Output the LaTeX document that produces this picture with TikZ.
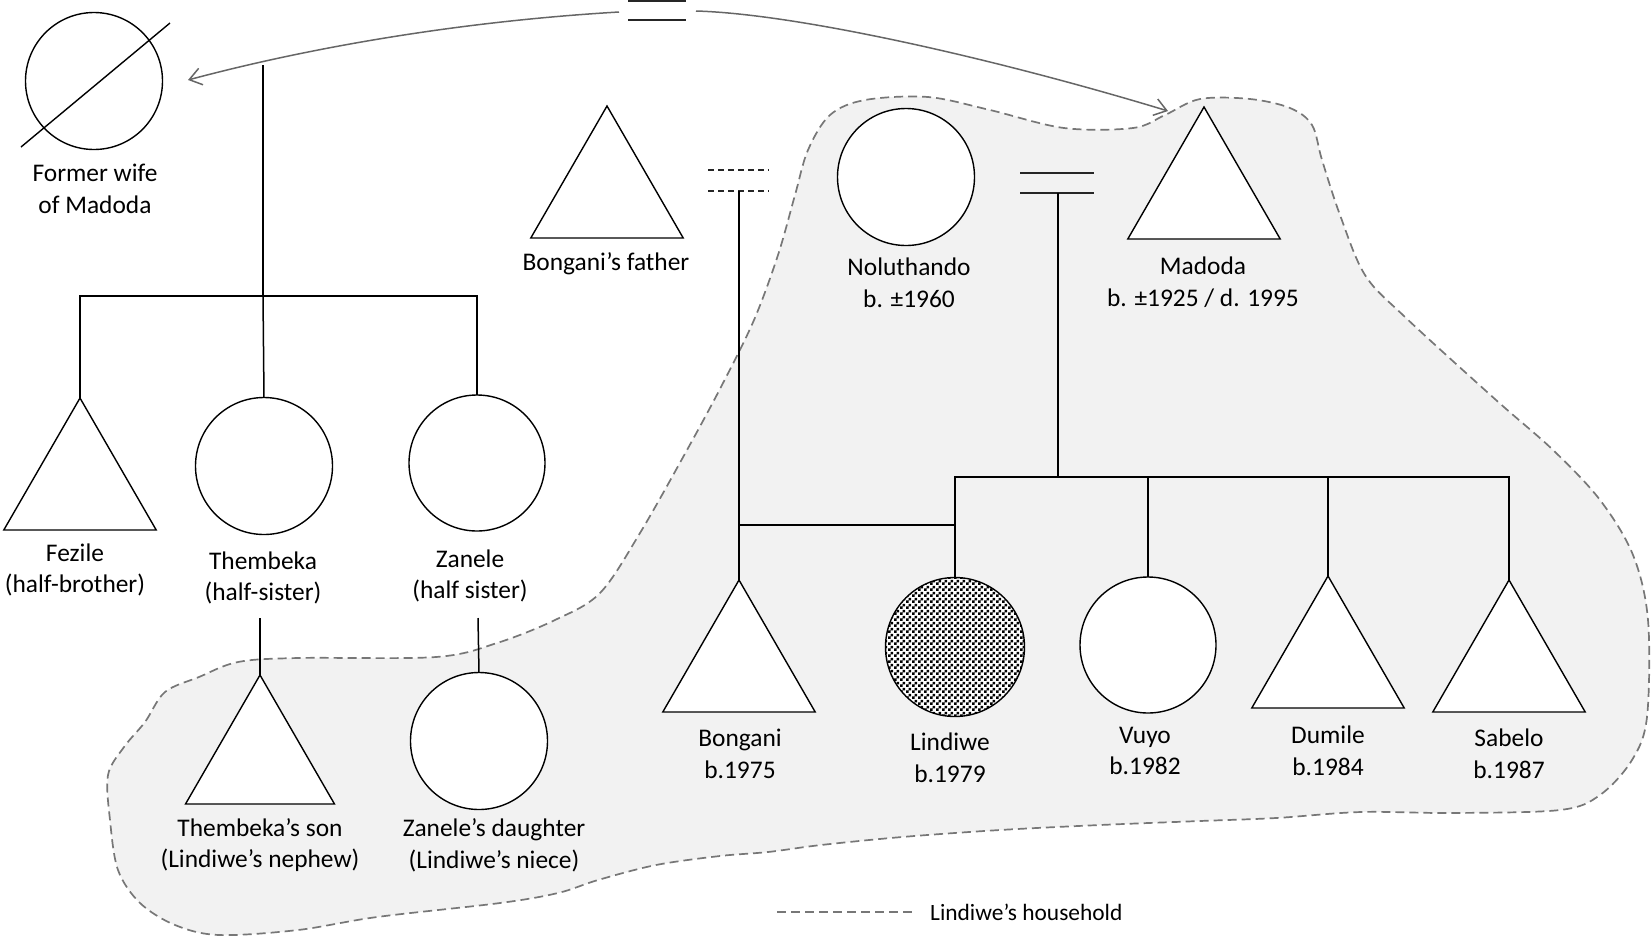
\documentclass[tikz,border=0pt]{standalone}
\usepackage{fontspec}
\setmainfont{Carlito}
\usetikzlibrary{shapes.geometric,arrows.meta,patterns}
\pgfdeclarepatternformonly{ldots}{\pgfpointorigin}{\pgfpoint{6pt}{6pt}}{\pgfpoint{6pt}{6pt}}{%
  \pgfpathrectangle{\pgfpoint{0.1pt}{0.1pt}}{\pgfpoint{3.0pt}{3.0pt}}%
  \pgfpathrectangle{\pgfpoint{3.1pt}{3.1pt}}{\pgfpoint{2.8pt}{2.8pt}}%
  \pgfusepath{fill}}
\definecolor{blobfill}{HTML}{F2F2F2}
\definecolor{blobline}{HTML}{777777}
\definecolor{arrgray}{HTML}{666666}
\begin{document}
\begin{tikzpicture}[x=1pt,y=-1pt,
  tri/.style={regular polygon, regular polygon sides=3, minimum size=176pt, inner sep=0pt, outer sep=0pt, draw=black, fill=white, line width=1.4pt},
  fem/.style={circle, inner sep=0pt, outer sep=0pt, draw=black, fill=white, line width=1.4pt},
  lab/.style={align=center, font=\fontsize{25.4}{31.6}\selectfont, inner sep=0pt},
  kin/.style={draw=black, line width=1.5pt},
  marr/.style={draw=black!85, line width=1.9pt},
  arr/.style={draw=arrgray, line width=1.5pt, -{Straight Barb[length=12pt,width=17pt]}},
  house/.style={draw=blobline, dash pattern=on 9pt off 5pt, line width=1.7pt},
]
\useasboundingbox (0,0) rectangle (1652,938);

% household outline
\path[house, fill=blobfill] plot[smooth cycle, tension=0.55] coordinates {
(555,620) (600,593) (640,533) (687,450) (722,385) (754,320) (778,255) (795,195) (808,150) (830,115) (865,100) (928,97) (990,110) (1064,128) (1133,128) (1165,115) (1200,99) (1250,99) (1290,108) (1312,125) (1322,160) (1340,215) (1365,275) (1405,317) (1496,400) (1553,450) (1600,500) (1633,555) (1648,620) (1647,717) (1632,760) (1600,795) (1560,810) (1452,813) (1361,812) (1276,818) (1200,821) (1100,825) (1000,830) (902,837) (821,845) (768,852) (720,856) (656,865) (598,880) (558,893) (500,903) (377,917) (298,930) (219,935) (175,925) (140,903) (118,870) (110,820) (108,775) (124,747) (145,722) (165,692) (199,677) (238,662) (298,658) (436,657) (497,643)};

% persons
\node[fem, minimum size=137pt] (fw) at (94,81) {};
\coordinate (slA) at (21,147); \coordinate (slB) at (170,23);
\draw[line width=1.4pt] (slA) -- (slB);
\node[tri] (bfa) at (607,194) {};
\node[fem, minimum size=137pt] (nol) at (906,177) {};
\node[tri] (mad) at (1204,195) {};

\node[tri] (fez) at (80,486) {};
\node[fem, minimum size=137pt] (them) at (264,466) {};
\node[fem, minimum size=136pt] (zan) at (477,463) {};

\node[tri, minimum size=172pt] (son) at (260,761) {};
\node[fem, minimum size=137pt] (dau) at (479,741) {};

\node[tri] (bon) at (739,668) {};
\node[fem, minimum size=139pt, postaction={pattern=ldots}] (lind) at (955,647) {};
\node[fem, minimum size=136pt] (vuyo) at (1148,645) {};
\node[tri] (dum) at (1328,664) {};
\node[tri] (sab) at (1509,668) {};

% labels
\node[lab] (fwL) at (95,189) {Former wife\\of Madoda};
\node[lab] (bfaL) at (606,264) {Bongani’s father};
\node[lab] (nolL) at (909,283) {Noluthando\\b. ±1960};
\node[lab] (madL) at (1203,282) {Madoda\\b. ±1925 / d. 1995};
\node[lab] (fezL) at (75,570) {Fezile\\(half-brother)};
\node[lab] (themL) at (263,578) {Thembeka\\(half-sister)};
\node[lab] (zanL) at (470,576) {Zanele\\(half sister)};
\node[lab] (sonL) at (260,845) {Thembeka’s son\\(Lindiwe’s nephew)};
\node[lab] (dauL) at (494,845) {Zanele’s daughter\\(Lindiwe’s niece)};
\node[lab] (bonL) at (740,754) {Bongani\\b.1975};
\node[lab] (lindL) at (950,758) {Lindiwe\\b.1979};
\node[lab] (vuyoL) at (1145,751) {Vuyo\\b.1982};
\node[lab] (dumL) at (1328,751) {Dumile\\b.1984};
\node[lab] (sabL) at (1509,754) {Sabelo\\b.1987};

% marriage of Madoda and former wife (top)
\coordinate (m1a) at (628,1); \coordinate (m1b) at (686,1);
\coordinate (m1c) at (628,20); \coordinate (m1d) at (686,20);
\draw[marr] (m1a) -- (m1b);
\draw[marr] (m1c) -- (m1d);
\coordinate (eqL) at (619,12); \coordinate (eqR) at (696,11);
\coordinate (fwArr) at (188,80); \coordinate (madArr) at (1168,111);
\draw[arr] (eqL) .. controls (450,22) and (300,50) .. (fwArr);
\draw[arr] (eqR) .. controls (800,14) and (1000,60) .. (madArr);

% children of first marriage
\coordinate (f1top) at (263,65); \coordinate (f1bar) at (263,296);
\draw[kin] (f1top) -- (f1bar);
\draw[kin] (fez.north) -- (fez.north |- f1bar) -- (zan.north |- f1bar) -- (zan.north);
\draw[kin] (f1bar) -- (them.north);

% grandchildren
\coordinate (themT) at (260,618); \coordinate (zanT) at (478,618);
\draw[kin] (themT) -- (son.north);
\draw[kin] (zanT) -- (dau.north);

% Noluthando & Bongani's father (dashed)
\coordinate (m3a) at (708,170); \coordinate (m3b) at (769,170);
\coordinate (m3c) at (708,191); \coordinate (m3d) at (769,191);
\draw[draw=black!85, line width=1.6pt, dash pattern=on 6pt off 4pt] (m3a) -- (m3b);
\draw[draw=black!85, line width=1.6pt, dash pattern=on 6pt off 4pt] (m3c) -- (m3d);
\coordinate (eq3) at (739,191);
\draw[kin] (eq3) -- (bon.north);
\coordinate (bb) at (739,525);
\draw[kin] (bb) -- (lind.north |- bb);

% Noluthando & Madoda
\coordinate (m2a) at (1020,173); \coordinate (m2b) at (1094,173);
\coordinate (m2c) at (1020,193); \coordinate (m2d) at (1094,193);
\draw[marr] (m2a) -- (m2b);
\draw[marr] (m2c) -- (m2d);
\coordinate (eq2) at (1058,193); \coordinate (bar2) at (1058,477);
\draw[kin] (eq2) -- (bar2);
\draw[kin] (lind.north) -- (lind.north |- bar2) -- (sab.north |- bar2) -- (sab.north);
\draw[kin] (vuyo.north |- bar2) -- (vuyo.north);
\draw[kin] (dum.north |- bar2) -- (dum.north);

% legend
\coordinate (legA) at (777,912); \coordinate (legB) at (912,912);
\draw[house] (legA) -- (legB);
\node[anchor=west, inner sep=0pt, font=\fontsize{23.4}{28}\selectfont] (legL) at (930,912) {Lindiwe’s household};
\end{tikzpicture}
\end{document}
